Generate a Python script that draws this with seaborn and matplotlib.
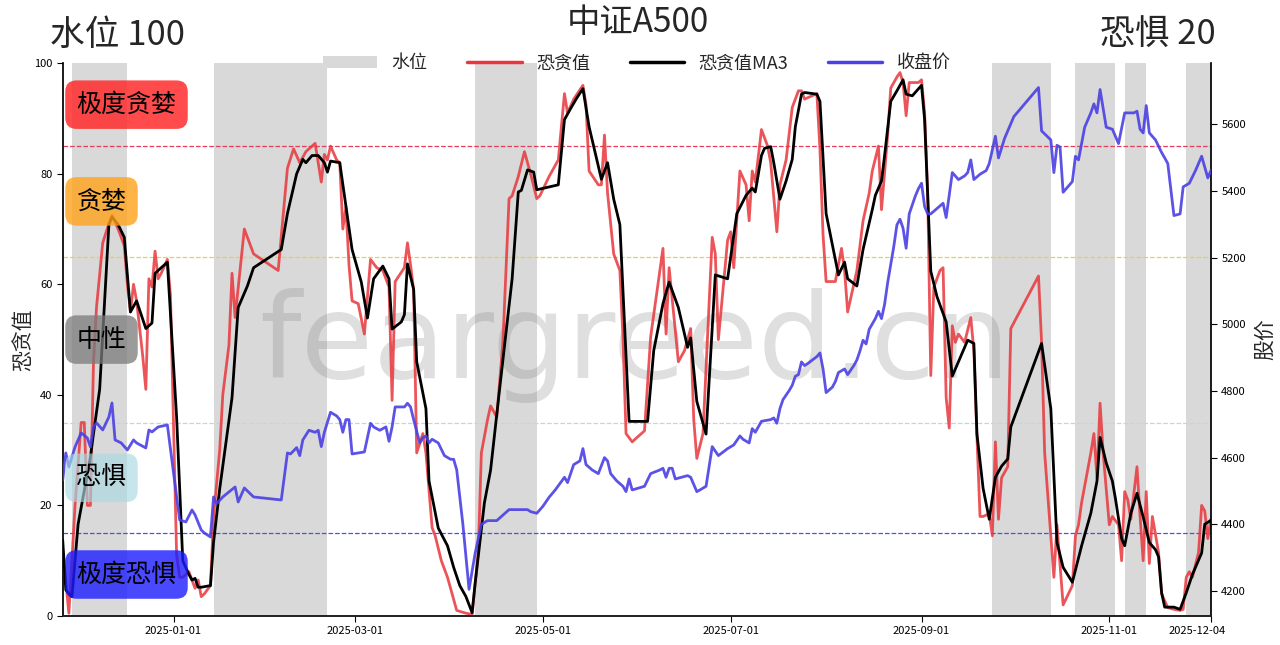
#!/usr/bin/env python3
# -*-coding: utf-8 -*-
'''
中证A500 恐贪值 / 收盘价 / 水位 图
'''
import pandas as pd
import seaborn as sns
import matplotlib.pyplot as plt
from matplotlib.patches import Patch
from matplotlib.lines import Line2D
from matplotlib.transforms import ScaledTranslation

sns.set_theme(style="ticks")
plt.rcParams['font.family'] = ['Noto Sans CJK SC', 'DejaVu Sans']
plt.rcParams['axes.unicode_minus'] = False

# all day numbers count from this date
BASE = pd.Timestamp("2025-01-01")

# 恐贪值
fg_days = [-36, -34, -32, -30, -29, -28, -27, -26, -25, -23,
           -21, -20, -18, -16, -15, -14, -13, -12, -10, -9,
           -8, -7, -6, -5, -4, -2, -1, 1, 2, 3,
           5, 6, 7, 8, 9, 10, 12, 13, 15, 16,
           18, 19, 20, 23, 26, 30, 34, 37, 39, 41,
           43, 44, 46, 48, 49, 50, 51, 53, 54, 55,
           56, 57, 58, 60, 62, 64, 66, 68, 70, 71,
           72, 75, 76, 77, 78, 79, 81, 82, 84, 85,
           87, 89, 91, 92, 95, 97, 99, 100, 102, 103,
           105, 107, 109, 110, 112, 114, 116, 118, 119, 122,
           125, 127, 128, 130, 133, 134, 135, 138, 139, 140,
           141, 143, 145, 146, 147, 149, 153, 155, 157, 159,
           160, 161, 164, 166, 168, 169, 170, 172, 175, 176,
           177, 180, 181, 182, 184, 186, 187, 188, 189, 191,
           193, 194, 196, 197, 199, 201, 203, 204, 205, 209,
           210, 211, 212, 215, 217, 218, 219, 222, 224, 226,
           227, 229, 230, 232, 233, 235, 236, 237, 238, 239,
           242, 243, 244, 245, 246, 247, 249, 250, 251, 252,
           253, 254, 255, 257, 259, 260, 261, 262, 263, 265,
           266, 267, 268, 269, 271, 272, 281, 282, 283, 286,
           287, 289, 292, 293, 294, 295, 298, 299, 300, 301,
           302, 304, 305, 307, 308, 309, 310, 311, 313, 314,
           315, 316, 317, 318, 320, 321, 323, 325, 327, 328,
           329, 330, 331, 333, 334, 335, 336, 337]
fg_vals = [12, 0.5, 20, 35, 35, 20, 20, 46, 56, 67.5,
           71, 72.5, 70, 67, 60, 55, 60, 57, 47, 41,
           61, 59.5, 66, 61, 62, 64.5, 58, 11, 7, 7,
           8, 6.5, 5, 6.5, 3.5, 4, 5.5, 18, 30, 40,
           49, 62, 54, 70, 65.5, 64, 62.5, 81, 84.5, 82,
           84, 84.5, 85.5, 78.5, 83.5, 82.5, 85, 82.5, 82, 70,
           74, 63.5, 57, 56.5, 51, 64.5, 63, 62.5, 59.5, 39,
           60.5, 63, 67.5, 63.5, 59, 29.5, 33, 29.5, 16, 14.5,
           10, 7, 3, 1, 0.5, 0.3, 11.5, 29.5, 35.5, 38,
           36, 49.5, 75.5, 76, 79.5, 84, 80, 75.5, 76, 79.5,
           82.5, 94.5, 91, 93.5, 96, 92.5, 80.5, 78, 78, 87,
           76.5, 65.5, 62.5, 50.5, 33, 31.5, 33.5, 50.5, 58.5, 66.5,
           51, 63, 46, 48, 52, 35.5, 28.5, 33, 68.5, 65.5,
           50, 68, 69.5, 63, 80.5, 78, 71.5, 80.5, 78.5, 88,
           85, 82, 69.5, 78, 82.5, 92, 95, 95, 93.5, 94.5,
           84.5, 69, 60.5, 60.5, 66.5, 62.5, 55, 62.5, 71.5, 76.5,
           80.5, 85, 73.5, 87, 95.5, 97.5, 98.3, 96.5, 90.5, 96.5,
           96.5, 97, 91, 76.5, 43.5, 59.5, 62.5, 63, 39.5, 34,
           52.5, 49.5, 51, 49.5, 54, 48, 32.5, 18, 18, 18.5,
           14.5, 31.5, 17.5, 25, 27, 52, 61.5, 49.5, 29.5, 7,
           16.5, 2, 5.5, 14.5, 16.5, 20.5, 29.5, 33, 25, 38.5,
           29.5, 16.5, 18, 16.5, 10, 22.5, 21, 17.5, 27, 18,
           10, 22.5, 9.5, 18, 11.5, 4, 1.5, 1.2, 1, 1.2,
           7, 8, 7, 11.5, 20, 19, 14, 17.5]

# 恐贪值MA3
ma3_days = [-36, -35, -33, -31, -27, -26, -24, -21, -20, -18,
            -16, -14, -12, -9, -7, -6, -2, 1, 3, 5,
            6, 7, 8, 9, 12, 13, 15, 19, 21, 24,
            26, 35, 37, 40, 42, 43, 45, 47, 49, 50,
            51, 54, 56, 58, 61, 63, 65, 68, 70, 71,
            74, 75, 76, 78, 79, 82, 83, 86, 89, 91,
            93, 95, 97, 98, 101, 103, 106, 110, 112, 113,
            115, 117, 118, 125, 127, 129, 131, 133, 135, 139,
            141, 143, 145, 148, 154, 156, 159, 161, 164, 167,
            168, 170, 173, 176, 180, 183, 186, 188, 189, 191,
            192, 194, 195, 197, 199, 201, 202, 204, 205, 209,
            210, 212, 216, 218, 219, 222, 224, 227, 228, 230,
            231, 233, 235, 237, 238, 240, 243, 244, 246, 248,
            251, 253, 255, 258, 260, 261, 263, 265, 267, 269,
            271, 272, 282, 285, 287, 289, 292, 295, 298, 300,
            301, 303, 305, 306, 308, 309, 311, 313, 315, 317,
            319, 320, 321, 322, 325, 327, 329, 331, 334, 335,
            337]
ma3_vals = [13.7, 4.7, 3.5, 16.6, 28.8, 33, 41, 70.8, 72.2, 70.8,
            68.5, 55, 57, 52, 53, 62, 64, 36, 10, 7.5,
            6.5, 6.8, 5.2, 5.2, 5.5, 13.3, 23, 39.5, 55.8, 59.7,
            63, 66.3, 72.8, 80, 82.6, 82, 83.3, 83.3, 82, 80.3,
            82.3, 82, 74.1, 66.3, 60.4, 53.9, 61, 63.3, 61, 51.9,
            53.2, 54.5, 63.7, 59.1, 46, 37.5, 24.4, 15.9, 12.7, 8.8,
            5.5, 3.5, 0.6, 6, 20.5, 26.4, 41.4, 61, 76.7, 77,
            80.7, 80.3, 77.1, 78, 89.8, 91.8, 93.7, 95.4, 88.5, 79,
            82, 75.4, 70.8, 35.2, 35.2, 48, 56.5, 60.4, 55.8, 48.6,
            50.3, 38.8, 32.9, 61.7, 61, 72.8, 76.1, 77.4, 76.7, 83.3,
            84.6, 84.9, 82, 75.4, 78.7, 82.6, 88.5, 94.4, 94.7, 94.4,
            93.1, 72.8, 61.7, 64, 61, 59.7, 66.3, 73.5, 76.1, 78.7,
            83.3, 93.1, 95, 97, 94.4, 94.1, 96, 89.8, 62.4, 57.8,
            53.2, 43.4, 46, 49.9, 49.3, 32.9, 23.1, 17.5, 25.1, 27.1,
            28.4, 34.2, 49.3, 37.5, 13.3, 8.8, 6.1, 12.7, 18.6, 24.4,
            32.3, 27.7, 24.4, 21.2, 14, 12.7, 18.6, 22.2, 17.9, 13.3,
            12, 10.7, 4.2, 1.6, 1.6, 1.2, 4.2, 7.5, 11.4, 16.6,
            17.3]

# 收盘价
close_days = [-36, -35, -34, -32, -30, -28, -27, -26, -25, -23,
              -21, -20, -19, -17, -15, -13, -12, -9, -8, -7,
              -5, -2, 0, 2, 4, 6, 7, 9, 10, 12,
              13, 14, 16, 20, 21, 23, 26, 35, 37, 38,
              40, 41, 42, 44, 46, 47, 48, 49, 51, 53,
              54, 55, 56, 57, 58, 62, 64, 65, 67, 69,
              70, 71, 72, 75, 76, 77, 78, 80, 81, 82,
              83, 84, 86, 88, 90, 91, 92, 94, 96, 98,
              100, 102, 105, 109, 113, 115, 116, 118, 120, 122,
              124, 127, 128, 130, 132, 133, 134, 136, 138, 140,
              141, 142, 144, 146, 147, 148, 149, 153, 155, 158,
              159, 160, 161, 162, 163, 165, 167, 168, 170, 171,
              173, 175, 177, 180, 182, 184, 185, 187, 188, 189,
              191, 194, 195, 196, 197, 198, 200, 201, 202, 203,
              204, 205, 206, 209, 210, 211, 212, 214, 215, 216,
              218, 219, 221, 222, 223, 224, 225, 226, 228, 229,
              230, 231, 232, 234, 235, 236, 237, 238, 239, 241,
              242, 243, 244, 245, 246, 248, 250, 251, 253, 255,
              257, 258, 259, 260, 262, 264, 265, 267, 268, 270,
              273, 281, 282, 285, 286, 287, 288, 289, 292, 293,
              294, 296, 298, 299, 300, 301, 303, 305, 307, 309,
              312, 313, 314, 315, 316, 317, 319, 321, 322, 323,
              325, 327, 328, 330, 332, 334, 335, 336, 337]
close_vals = [4533, 4614, 4572, 4632, 4674, 4659, 4632, 4692, 4704, 4683,
              4722, 4764, 4653, 4644, 4623, 4653, 4644, 4629, 4683, 4677,
              4692, 4698, 4554, 4413, 4407, 4443, 4428, 4383, 4374, 4362,
              4482, 4462, 4482, 4512, 4467, 4509, 4482, 4473, 4614, 4611,
              4630, 4606, 4653, 4682, 4676, 4682, 4633, 4676, 4736, 4725,
              4714, 4676, 4714, 4714, 4611, 4617, 4703, 4692, 4682, 4692,
              4649, 4692, 4752, 4752, 4763, 4752, 4714, 4644, 4660, 4665,
              4644, 4655, 4644, 4606, 4595, 4595, 4563, 4400, 4205, 4314,
              4400, 4411, 4411, 4444, 4444, 4444, 4438, 4433, 4454, 4481,
              4503, 4541, 4525, 4579, 4590, 4627, 4579, 4563, 4552, 4600,
              4590, 4552, 4530, 4514, 4498, 4536, 4503, 4514, 4552, 4563,
              4568, 4541, 4568, 4568, 4536, 4541, 4546, 4541, 4498, 4503,
              4514, 4633, 4606, 4627, 4638, 4665, 4655, 4644, 4687, 4676,
              4709, 4714, 4719, 4703, 4747, 4774, 4801, 4817, 4844, 4849,
              4887, 4876, 4882, 4903, 4914, 4866, 4795, 4811, 4828, 4855,
              4866, 4849, 4876, 4893, 4920, 4952, 4941, 4985, 5017, 5039,
              5017, 5060, 5125, 5234, 5298, 5315, 5288, 5228, 5331, 5385,
              5407, 5423, 5353, 5331, 5331, 5347, 5363, 5320, 5455, 5434,
              5445, 5455, 5493, 5434, 5450, 5461, 5482, 5564, 5499, 5558,
              5623, 5710, 5580, 5553, 5455, 5537, 5531, 5396, 5428, 5504,
              5493, 5591, 5634, 5661, 5634, 5704, 5591, 5585, 5542, 5634,
              5634, 5639, 5585, 5574, 5656, 5574, 5553, 5515, 5499, 5482,
              5326, 5331, 5412, 5423, 5461, 5504, 5472, 5439, 5461]

# 水位 periods (start / end day)
span_start = [-33, 13, 98, 266, 293, 309, 329]
span_end = [-15, 50, 118, 285, 306, 316, 337]

# sentiment zones
zone_names = ["极度贪婪", "贪婪", "中性", "恐惧", "极度恐惧"]
zone_mid = [92.5, 75, 50, 25, 7.5]
zone_colors = ["#ff2b2b", "#ffa21a", "#7a7a7a", "#a9d9e3", "#1c1cff"]
zone_alpha = [0.85, 0.8, 0.75, 0.65, 0.8]
level_vals = [85, 65, 35, 15]
level_colors = ["#e0405a", "#e2d640", "#c9d3da", "#5050e8"]

tick_labels = ["2025-01-01", "2025-03-01", "2025-05-01", "2025-07-01",
               "2025-09-01", "2025-11-01", "2025-12-04"]


def to_dates(days):
    return BASE + pd.to_timedelta(days, unit="D")


RED = "#e8373c"
BLUE = "#4a40e4"
GRAY = "#d9d9d9"

fig = plt.figure(figsize=(12.8, 6.45), dpi=100)
ax = fig.add_axes([0.049, 0.045, 0.897, 0.857])
ax2 = ax.twinx()

# water level shading
for s, e in zip(to_dates(span_start), to_dates(span_end)):
    ax.axvspan(s, e, color=GRAY, lw=0, zorder=0)

for v, c in zip(level_vals, level_colors):
    ax.axhline(v, color=c, ls="--", lw=0.9, zorder=1)

ax.text(0.498, 0.49, "feargreed.cn", transform=ax.transAxes,
        fontsize=85, color="gray", alpha=0.25, ha="center", va="center",
        family="DejaVu Sans", zorder=1)

sns.lineplot(x=to_dates(fg_days), y=fg_vals, ax=ax, color=RED, lw=2,
             alpha=0.85, estimator=None, sort=False, zorder=3)
sns.lineplot(x=to_dates(ma3_days), y=ma3_vals, ax=ax, color="black", lw=2,
             estimator=None, sort=False, zorder=4)
sns.lineplot(x=to_dates(close_days), y=close_vals, ax=ax2, color=BLUE, lw=2,
             alpha=0.9, estimator=None, sort=False, zorder=3)

ax.set_xlim(to_dates([fg_days[0]])[0], to_dates([fg_days[-1]])[0])
ax.set_ylim(0, 100)
ax2.set_ylim(4125, 5783)
ax.set_yticks([0, 20, 40, 60, 80, 100])
ax2.set_yticks([4200, 4400, 4600, 4800, 5000, 5200, 5400, 5600])
ax.set_xticks(pd.to_datetime(tick_labels))
ax.set_xticklabels(tick_labels)
ax.tick_params(axis="both", labelsize=8, length=4, width=0.8, colors="black")
ax2.tick_params(axis="y", labelsize=8, length=4, width=0.8, colors="black")
ax.set_xlabel("")
ax.set_ylabel("恐贪值", fontsize=15, labelpad=0)
ax2.set_ylabel("股价", fontsize=15, labelpad=6)

last = ax.get_xticklabels()[-1]
last.set_transform(last.get_transform()
                   + ScaledTranslation(-0.14, 0, fig.dpi_scale_trans))
last.set_bbox(dict(facecolor="white", edgecolor="none", pad=2))

for a in (ax, ax2):
    a.spines["top"].set_visible(False)
ax.spines["right"].set_visible(False)
ax2.spines["left"].set_visible(False)
for sp in ("left", "bottom"):
    ax.spines[sp].set_color("black")
ax2.spines["right"].set_color("black")

# sentiment zone tags on the left
ytrans = ax.get_yaxis_transform()
for name, y, c, al in zip(zone_names, zone_mid, zone_colors, zone_alpha):
    ax2.text(0.012, y, name, transform=ytrans, fontsize=18, ha="left",
             va="center", color="black", zorder=10,
             bbox=dict(boxstyle="round,pad=0.45", facecolor=c, alpha=al,
                       edgecolor="none"))

handles = [Patch(facecolor=GRAY, edgecolor="none"),
           Line2D([], [], color=RED, lw=2.5),
           Line2D([], [], color="black", lw=2.5),
           Line2D([], [], color=BLUE, lw=2.5)]
ax2.legend(handles, ["水位", "恐贪值", "恐贪值MA3", "收盘价"], loc="center",
           bbox_to_anchor=(0.5, 1.0), ncol=4, frameon=False, fontsize=13,
           handlelength=3, columnspacing=2.2, handletextpad=0.8)

fig.text(0.039, 0.945, "水位 100", fontsize=25, ha="left", va="center")
fig.text(0.498, 0.965, "中证A500", fontsize=24, ha="center", va="center")
fig.text(0.95, 0.945, "恐惧 20", fontsize=25, ha="right", va="center")

fig.savefig("out.png", dpi=100)
